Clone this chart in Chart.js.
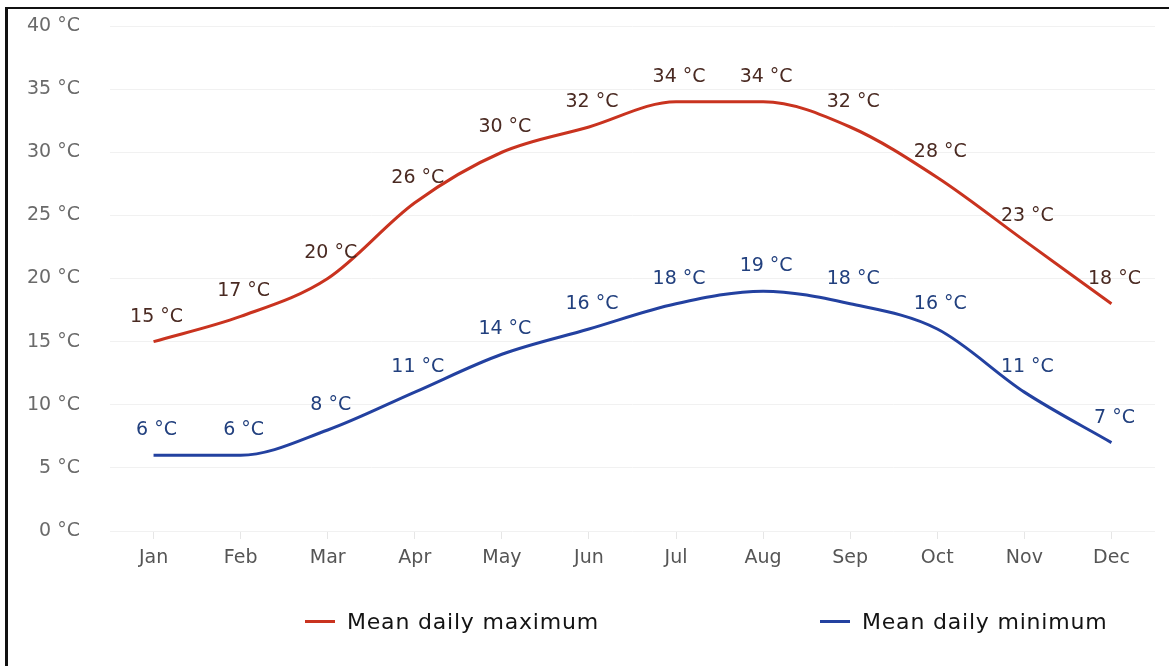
<!DOCTYPE html>
<html>
<head>
<meta charset="utf-8">
<title>Mean daily temperatures</title>
<script src="https://cdn.jsdelivr.net/npm/chart.js@4.4.1/dist/chart.umd.min.js"></script>
<style>
    html, body { margin: 0; padding: 0; background: #fff; }
    #wrap { position: relative; width: 1169px; height: 666px; overflow: hidden; }
    #frame {
        position: absolute; left: 5px; top: 7px; width: 1200px; height: 700px;
        border-left: 3px solid #111; border-top: 2px solid #111;
        pointer-events: none;
    }
    .legend-item {
        position: absolute; top: 607px; height: 28px;
        display: flex; align-items: center;
        font-family: "DejaVu Sans", sans-serif; font-size: 22px;
        letter-spacing: 0.8px; color: #141414;
    }
    .legend-item .swatch { width: 30px; height: 3px; margin-right: 12px; }
</style>
</head>
<body>
<div id="wrap">
    <canvas id="myChart"></canvas>
    <div id="legend"></div>
    <div id="frame"></div>
</div>
<script>
// chart data
const months = ['Jan', 'Feb', 'Mar', 'Apr', 'May', 'Jun', 'Jul', 'Aug', 'Sep', 'Oct', 'Nov', 'Dec'];
const maxTemps = [15, 17, 20, 26, 30, 32, 34, 34, 32, 28, 23, 18];
const minTemps = [6, 6, 8, 11, 14, 16, 18, 19, 18, 16, 11, 7];
const yTicks = [0, 5, 10, 15, 20, 25, 30, 35, 40];
const seriesNames = ['Mean daily maximum', 'Mean daily minimum'];
const unit = '°C';

// draws the "15 °C" text above every point
const pointLabels = {
    id: 'pointLabels',
    afterDatasetsDraw(chart) {
        const ctx = chart.ctx;
        ctx.save();
        ctx.font = '19px "DejaVu Sans", sans-serif';
        ctx.textAlign = 'center';
        ctx.textBaseline = 'middle';
        chart.data.datasets.forEach((ds, i) => {
            const meta = chart.getDatasetMeta(i);
            ctx.fillStyle = ds.labelColor;
            meta.data.forEach((pt, j) => {
                ctx.fillText(ds.data[j] + ' ' + unit, pt.x + 3, pt.y - 25);
            });
        });
        ctx.restore();
    }
};

const ctx = document.getElementById('myChart').getContext('2d');
const tempChart = new Chart(ctx, {
    type: 'line',
    data: {
        labels: months,
        datasets: [{
            label: seriesNames[0],
            data: maxTemps,
            borderColor: '#c9331f',
            labelColor: '#4a2a22',
            borderWidth: 3,
            pointRadius: 0,
            cubicInterpolationMode: 'monotone'
        }, {
            label: seriesNames[1],
            data: minTemps,
            borderColor: '#2341a0',
            labelColor: '#22407e',
            borderWidth: 3,
            pointRadius: 0,
            cubicInterpolationMode: 'monotone'
        }]
    },
    options: {
        responsive: true,
        maintainAspectRatio: false,
        animation: false,
        layout: { padding: { top: 26, right: 14, left: 0, bottom: 0 } },
        plugins: {
            legend: { display: false },
            tooltip: { enabled: false }
        },
        scales: {
            x: {
                offset: true,
                border: { display: false },
                grid: { offset: false, drawOnChartArea: false, drawTicks: true, tickLength: 8, color: '#e6e6e6' },
                ticks: { padding: 8, color: '#555', font: { family: 'DejaVu Sans', size: 19 } },
                afterFit(scale) { scale.height = 135; }
            },
            y: {
                min: 0,
                max: 40,
                border: { display: false },
                grid: { drawTicks: false, color: '#f1f1f1' },
                afterBuildTicks(scale) { scale.ticks = yTicks.map(v => ({ value: v })); },
                ticks: {
                    padding: 30,
                    color: '#6a6a6a',
                    font: { family: 'DejaVu Sans', size: 19 },
                    callback: v => v + ' ' + unit
                },
                afterFit(scale) {
                    scale.width = 110;
                    scale.paddingTop = 0;
                    scale.paddingBottom = 0;
                }
            }
        }
    },
    plugins: [pointLabels]
});

// legend spread across the bottom like the original
const legendPos = [305, 820];
const legendBox = document.getElementById('legend');
tempChart.data.datasets.forEach((ds, i) => {
    const item = document.createElement('div');
    item.className = 'legend-item';
    item.style.left = legendPos[i] + 'px';
    item.innerHTML = '<span class="swatch" style="background:' + ds.borderColor + '"></span>' + ds.label;
    legendBox.appendChild(item);
});
</script>
</body>
</html>
